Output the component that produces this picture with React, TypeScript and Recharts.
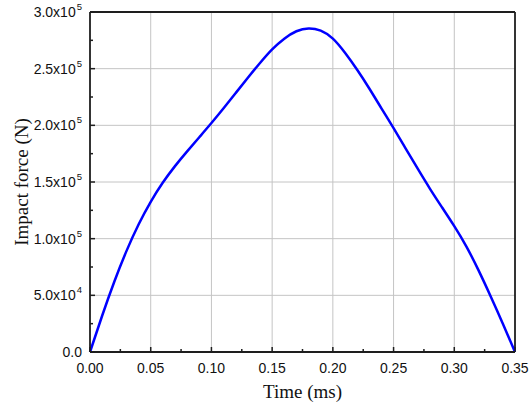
import React from "react";
import { LineChart, Line, XAxis, YAxis, ReferenceLine } from "recharts";

// time (ms) and impact force (N)
const TIME = [
  0, 0.01, 0.02, 0.03, 0.04, 0.05, 0.06, 0.07, 0.08, 0.09, 0.1, 0.11, 0.12, 0.13,
  0.14, 0.15, 0.16, 0.17, 0.18, 0.19, 0.2, 0.21, 0.22, 0.23, 0.24, 0.25, 0.26,
  0.27, 0.28, 0.29, 0.3, 0.31, 0.32, 0.33, 0.34, 0.35,
];
const FORCE = [
  0, 32000, 62000, 89000, 112500, 132500, 149500, 164000, 177000, 189500, 202000,
  215000, 228500, 242000, 255000, 267000, 276500, 283000, 285500, 283500, 276500,
  264000, 249000, 232500, 215000, 197500, 179500, 161500, 144000, 127500, 111000,
  93000, 72000, 49000, 25000, 0,
];

const X_TICKS = [
  0, 0.025, 0.05, 0.075, 0.1, 0.125, 0.15, 0.175, 0.2, 0.225, 0.25, 0.275, 0.3, 0.325, 0.35,
];
const X_GRID = [0.05, 0.1, 0.15, 0.2, 0.25, 0.3];
const Y_TICKS = [
  0, 25000, 50000, 75000, 100000, 125000, 150000, 175000, 200000, 225000, 250000, 275000, 300000,
];
const Y_GRID = [50000, 100000, 150000, 200000, 250000];
const Y_LABELS: Record<number, string> = {
  0: "0.0",
  50000: "5.0x10^4",
  100000: "1.0x10^5",
  150000: "1.5x10^5",
  200000: "2.0x10^5",
  250000: "2.5x10^5",
  300000: "3.0x10^5",
};

const data = TIME.map((t, i) => ({ t, f: FORCE[i] }));

const AXIS = "#1e1e1e";
const GRID = "#c4c4c4";
const SANS = "'Liberation Sans', Arial, sans-serif";
const SERIF = "'Liberation Serif', 'Times New Roman', serif";

function XTick({ x, y, payload }: any) {
  const v = payload.value as number;
  const major = Math.round(v * 1000) % 50 === 0;
  return (
    <g>
      <line x1={x} y1={y} x2={x} y2={y - (major ? 5 : 3)} stroke={AXIS} strokeWidth={1.5} />
      {major && (
        <text x={x} y={y + 21} textAnchor="middle" fontSize={14} fontFamily={SANS} fill="#111">
          {v.toFixed(2)}
        </text>
      )}
    </g>
  );
}

function YTick({ x, y, payload }: any) {
  const v = payload.value as number;
  const label = Y_LABELS[v];
  const [base, exp] = label ? label.split("^") : [null, null];
  return (
    <g>
      <line x1={x} y1={y} x2={x + (label ? 5 : 3)} y2={y} stroke={AXIS} strokeWidth={1.5} />
      {label && (
        <text x={x - 8} y={y + 5} textAnchor="end" fontSize={14} fontFamily={SANS} fill="#111">
          <tspan>{base}</tspan>
          {exp && (
            <tspan dy={-7} dx={1} fontSize={9.5}>
              {exp}
            </tspan>
          )}
        </text>
      )}
    </g>
  );
}

function XTitle({ viewBox }: any) {
  return (
    <text x={viewBox.x + viewBox.width / 2} y={viewBox.y + 46} textAnchor="middle" fontSize={19} fontFamily={SERIF} fill="#111">
      Time (ms)
    </text>
  );
}

function YTitle({ viewBox }: any) {
  const cx = 28;
  const cy = viewBox.y + viewBox.height / 2;
  return (
    <text x={cx} y={cy} transform={`rotate(-90, ${cx}, ${cy})`} textAnchor="middle" fontSize={19} fontFamily={SERIF} fill="#111">
      Impact force (N)
    </text>
  );
}

export default function App() {
  return (
    <div style={{ position: "absolute", left: 0, top: 0, width: 529, height: 410, background: "#fff" }}>
      <LineChart width={529} height={410} data={data} margin={{ top: 12, right: 14, bottom: 8, left: 0 }}>
        <XAxis
          dataKey="t"
          type="number"
          domain={[0, 0.35]}
          ticks={X_TICKS}
          interval={0}
          height={50}
          tickSize={0}
          tickMargin={0}
          tickLine={false}
          tick={<XTick />}
          axisLine={{ stroke: AXIS, strokeWidth: 1.8 }}
          label={<XTitle />}
        />
        <YAxis
          type="number"
          domain={[0, 300000]}
          ticks={Y_TICKS}
          interval={0}
          width={90}
          tickSize={0}
          tickMargin={0}
          tickLine={false}
          tick={<YTick />}
          axisLine={{ stroke: AXIS, strokeWidth: 1.8 }}
          label={<YTitle />}
        />
        {X_GRID.map((v) => (
          <ReferenceLine key={`x${v}`} x={v} stroke={GRID} strokeWidth={1} />
        ))}
        {Y_GRID.map((v) => (
          <ReferenceLine key={`y${v}`} y={v} stroke={GRID} strokeWidth={1} />
        ))}
        <ReferenceLine x={0.35} stroke={AXIS} strokeWidth={1.8} />
        <ReferenceLine y={300000} stroke={AXIS} strokeWidth={1.8} />
        <Line
          type="natural"
          dataKey="f"
          stroke="#0000ff"
          strokeWidth={2.5}
          dot={false}
          activeDot={false}
          isAnimationActive={false}
        />
      </LineChart>
    </div>
  );
}
